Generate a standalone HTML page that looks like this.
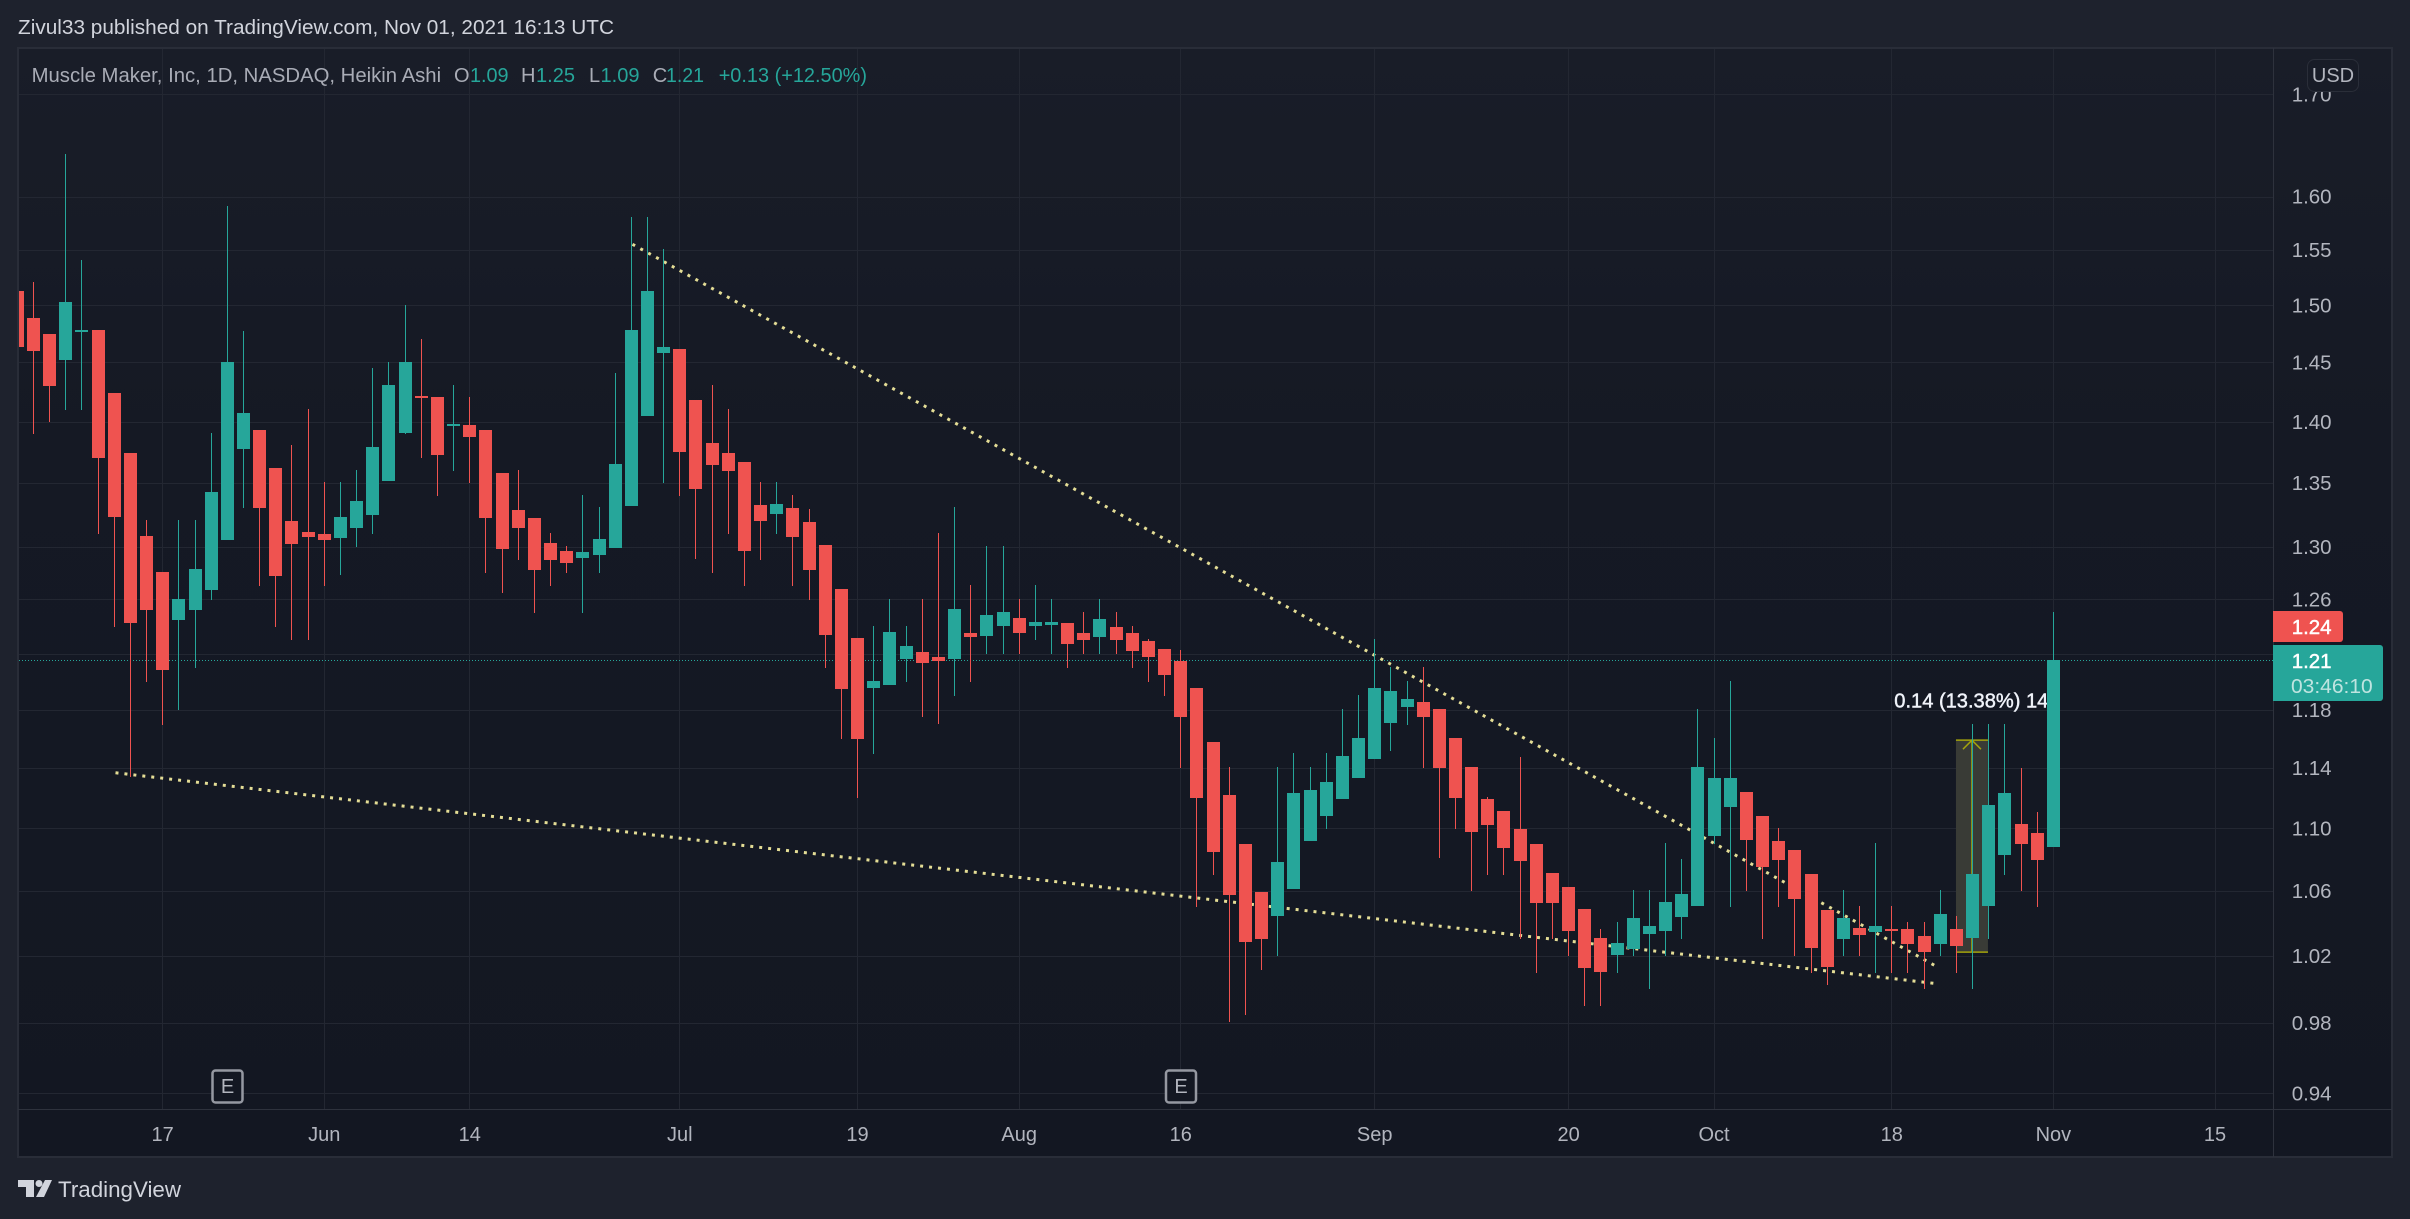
<!DOCTYPE html>
<html lang="en">
<head>
<meta charset="utf-8">
<title>Muscle Maker, Inc Heikin Ashi chart</title>
<style>
html,body{margin:0;padding:0;background:#1e222d;width:2410px;height:1219px;overflow:hidden}
svg{display:block}
text{font-family:"Liberation Sans",sans-serif}
</style>
</head>
<body>
<svg id="chart" xmlns="http://www.w3.org/2000/svg" width="2410" height="1219" viewBox="0 0 2410 1219">
  <defs>
    <linearGradient id="paneBg" x1="0" y1="0" x2="0" y2="1">
      <stop offset="0" stop-color="#191d28"/>
      <stop offset="0.35" stop-color="#151924"/>
      <stop offset="1" stop-color="#131722"/>
    </linearGradient>
    <clipPath id="paneClip"><rect x="19" y="49" width="2254" height="1060"/></clipPath>
  </defs>
  <rect x="0" y="0" width="2410" height="1219" fill="#1e222d"/>
  <text x="18" y="34" font-size="20" fill="#d1d4dc" textLength="596" lengthAdjust="spacingAndGlyphs">Zivul33 published on TradingView.com, Nov 01, 2021 16:13 UTC</text>
  <rect x="18" y="48" width="2374" height="1109" fill="url(#paneBg)" stroke="#292d38" stroke-width="2"/>
  <g id="grid" shape-rendering="crispEdges"></g>
  <g id="overlays" clip-path="url(#paneClip)"></g>
  <g id="candles" clip-path="url(#paneClip)" shape-rendering="crispEdges"></g>
  <line x1="2273.5" y1="48" x2="2273.5" y2="1157" stroke="#2e323d" stroke-width="1"/>
  <line x1="18" y1="1109.5" x2="2392" y2="1109.5" stroke="#2e323d" stroke-width="1"/>
  <g id="yticks"></g>
  <g id="xticks"></g>

  <g font-size="20">
    <text x="31.6" y="82" fill="#a9acb6" textLength="409.5" lengthAdjust="spacingAndGlyphs">Muscle Maker, Inc, 1D, NASDAQ, Heikin Ashi</text>
    <text x="454" y="82" fill="#a9acb6">O</text>
    <text x="470" y="82" fill="#26a69a" textLength="38.6" lengthAdjust="spacingAndGlyphs">1.09</text>
    <text x="521" y="82" fill="#a9acb6">H</text>
    <text x="536" y="82" fill="#26a69a" textLength="39" lengthAdjust="spacingAndGlyphs">1.25</text>
    <text x="589" y="82" fill="#a9acb6">L</text>
    <text x="600.5" y="82" fill="#26a69a" textLength="39" lengthAdjust="spacingAndGlyphs">1.09</text>
    <text x="652.7" y="82" fill="#a9acb6">C</text>
    <text x="666" y="82" fill="#26a69a" textLength="38" lengthAdjust="spacingAndGlyphs">1.21</text>
    <text x="718.7" y="82" fill="#26a69a" textLength="148.3" lengthAdjust="spacingAndGlyphs">+0.13 (+12.50%)</text>
  </g>

  <g>
    <rect x="2307.5" y="59.5" width="51" height="32" rx="7" fill="#181c27" stroke="#2a2e39" stroke-width="1"/>
    <text x="2333" y="82" font-size="20" fill="#b2b5be" text-anchor="middle">USD</text>
  </g>

  <g>
    <rect x="212.5" y="1070.5" width="30" height="32" rx="3" fill="#131722" stroke="#9598a1" stroke-width="2.5"/>
    <text x="227.5" y="1093" font-size="20" fill="#b2b5be" text-anchor="middle">E</text>
  </g>
  <g>
    <rect x="1166" y="1070.5" width="30" height="32" rx="3" fill="#131722" stroke="#9598a1" stroke-width="2.5"/>
    <text x="1181" y="1093" font-size="20" fill="#b2b5be" text-anchor="middle">E</text>
  </g>

  <g>
    <path d="M2273 611H2340a3 3 0 0 1 3 3V639a3 3 0 0 1 -3 3H2273Z" fill="#ef5350"/>
    <text x="2291.7" y="634" font-size="20.5" stroke="#ffffff" stroke-width="0.45" fill="#ffffff">1.24</text>
  </g>
  <g>
    <path d="M2273 645H2380a3 3 0 0 1 3 3V698a3 3 0 0 1 -3 3H2273Z" fill="#26a69a"/>
    <text x="2291.7" y="668" font-size="20.5" stroke="#ffffff" stroke-width="0.45" fill="#ffffff">1.21</text>
    <text x="2291" y="693" font-size="20" fill="#bfe4e0" textLength="81.7" lengthAdjust="spacingAndGlyphs">03:46:10</text>
  </g>

  <g>
    <path d="M18 1180H34V1197H26V1187H18Z" fill="#d1d4dc"/>
    <circle cx="39" cy="1183.5" r="3.5" fill="#d1d4dc"/>
    <path d="M45 1180H52L44 1197H36Z" fill="#d1d4dc"/>
    <text x="58" y="1197" font-size="22" fill="#d1d4dc" textLength="123" lengthAdjust="spacingAndGlyphs">TradingView</text>
  </g>
</svg>

<script>
// ---- Chart data (Heikin Ashi daily bars, USD) ----
const opens = [
1.5129,1.4890,1.4749,1.4523,1.4775,1.4784,1.4241,1.3743,1.3084,1.2808,
1.2448,1.2521,1.2671,1.3053,1.3775,1.3933,1.3622,1.3201,1.3116,1.3100,
1.3069,1.3147,1.3248,1.3518,1.3908,1.4215,1.4207,1.3966,1.3974,1.3933,
1.3582,1.3287,1.3225,1.3030,1.2967,1.2914,1.2937,1.2991,1.3318,1.4048,
1.4582,1.4617,1.4181,1.3825,1.3743,1.3670,1.3326,1.3256,1.3303,1.3193,
1.3014,1.2679,1.2315,1.1956,1.1977,1.2163,1.2213,1.2177,1.2163,1.2352,
1.2330,1.2404,1.2463,1.2404,1.2411,1.2426,1.2352,1.2322,1.2396,1.2352,
1.2293,1.2234,1.2148,1.1956,1.1578,1.1221,1.0899,1.0593,1.0444,1.0612,
1.0919,1.1082,1.1194,1.1335,1.1463,1.1710,1.1821,1.1856,1.1808,1.1606,
1.1409,1.1194,1.1115,1.0997,1.0899,1.0714,1.0625,1.0488,1.0309,1.0205,
1.0241,1.0334,1.0352,1.0438,1.0506,1.0952,1.1141,1.1241,1.1082,1.0919,
1.0860,1.0708,1.0481,1.0303,1.0370,1.0346,1.0364,1.0364,1.0321,1.0272,
1.0364,1.0309,1.0506,1.0828,1.1030,1.0971,1.0880];
const highs = [
1.5129,1.5211,1.4749,1.6410,1.5410,1.4784,1.4241,1.3743,1.3209,1.2808,
1.3209,1.3209,1.3908,1.5911,1.4775,1.3933,1.3622,1.3808,1.4106,1.3510,
1.3510,1.3606,1.4454,1.4506,1.5004,1.4705,1.4207,1.4309,1.4207,1.3933,
1.3582,1.3606,1.3225,1.3108,1.3006,1.3405,1.3310,1.4412,1.5808,1.5808,
1.5509,1.4617,1.4181,1.4309,1.4106,1.3670,1.3510,1.3510,1.3405,1.3295,
1.3014,1.2679,1.2315,1.2404,1.2603,1.2404,1.2603,1.3108,1.3310,1.2709,
1.3006,1.3006,1.2603,1.2709,1.2603,1.2426,1.2507,1.2603,1.2507,1.2404,
1.2308,1.2234,1.2227,1.1956,1.1578,1.1409,1.0899,1.0593,1.1409,1.1503,
1.1409,1.1503,1.1808,1.1906,1.2308,1.2106,1.2006,1.2106,1.1808,1.1606,
1.1409,1.1207,1.1115,1.1476,1.0899,1.0714,1.0625,1.0488,1.0364,1.0407,
1.0606,1.0606,1.0906,1.0803,1.1808,1.1606,1.2006,1.1241,1.1082,1.1004,
1.0860,1.0708,1.0481,1.0606,1.0506,1.0906,1.0506,1.0407,1.0407,1.0606,
1.0444,1.1703,1.1703,1.1703,1.1402,1.1109,1.2507];
const lows = [
1.4634,1.3900,1.3999,1.4098,1.4098,1.3100,1.2396,1.1342,1.1999,1.1696,
1.1801,1.2098,1.2595,1.3053,1.3303,1.2701,1.2396,1.2300,1.2300,1.2701,
1.2785,1.2998,1.3100,1.3518,1.3900,1.3703,1.3397,1.3598,1.3502,1.2800,
1.2648,1.2899,1.2499,1.2701,1.2800,1.2499,1.2800,1.2991,1.3318,1.4048,
1.3502,1.3397,1.2907,1.2800,1.3100,1.2701,1.2899,1.3100,1.2701,1.2595,
1.2098,1.1599,1.1201,1.1496,1.1977,1.1999,1.1752,1.1703,1.1899,1.1999,
1.2198,1.2198,1.2198,1.2300,1.2198,1.2098,1.2198,1.2198,1.2198,1.2098,
1.1999,1.1899,1.1402,1.0500,1.0701,0.9804,0.9849,1.0115,1.0199,1.0612,
1.0919,1.0997,1.1194,1.1335,1.1463,1.1516,1.1696,1.1402,1.0809,1.0997,
1.0600,1.0701,1.0701,1.0303,1.0097,1.0303,1.0199,0.9901,0.9901,1.0097,
1.0199,1.0002,1.0199,1.0303,1.0506,1.0899,1.0500,1.0600,1.0303,1.0500,
1.0199,1.0097,1.0026,1.0199,1.0199,1.0097,1.0097,1.0097,1.0002,1.0199,
1.0097,1.0002,1.0303,1.0701,1.0600,1.0500,1.0880];
const closes = [
1.4634,1.4599,1.4300,1.5030,1.4784,1.3703,1.3232,1.2426,1.2521,1.2084,
1.2603,1.2831,1.3429,1.4506,1.4073,1.3303,1.2778,1.3022,1.3076,1.3053,
1.3232,1.3357,1.3792,1.4309,1.4506,1.4198,1.3727,1.3982,1.3875,1.3225,
1.2983,1.3147,1.2823,1.2899,1.2876,1.2960,1.3061,1.3654,1.4784,1.5129,
1.4634,1.3751,1.3453,1.3646,1.3598,1.2967,1.3201,1.3334,1.3076,1.2823,
1.2337,1.1949,1.1599,1.2006,1.2359,1.2256,1.2134,1.2148,1.2529,1.2322,
1.2485,1.2507,1.2352,1.2433,1.2433,1.2271,1.2300,1.2455,1.2300,1.2220,
1.2177,1.2049,1.1752,1.1201,1.0847,1.0575,1.0284,1.0303,1.0784,1.1234,
1.1254,1.1308,1.1483,1.1606,1.1956,1.1934,1.1877,1.1752,1.1402,1.1201,
1.0978,1.1023,1.0873,1.0790,1.0525,1.0525,1.0352,1.0127,1.0103,1.0278,
1.0432,1.0383,1.0531,1.0581,1.1409,1.1335,1.1335,1.0925,1.0752,1.0796,
1.0549,1.0247,1.0133,1.0432,1.0327,1.0383,1.0352,1.0272,1.0223,1.0457,
1.0259,1.0708,1.1154,1.1234,1.0899,1.0796,1.2156];

const priceTickValues = [1.70,1.60,1.55,1.50,1.45,1.40,1.35,1.30,1.26,1.22,1.18,1.14,1.10,1.06,1.02,0.98,0.94];
const priceTickLabels = ["1.70","1.60","1.55","1.50","1.45","1.40","1.35","1.30","1.26","","1.18","1.14","1.10","1.06","1.02","0.98","0.94"];
const timeTickBars = [9,19,28,41,52,62,72,84,96,105,116,126,136];
const timeTickLabels = ["17","Jun","14","Jul","19","Aug","16","Sep","20","Oct","18","Nov","15"];

const lastPrice = 1.2156;
const upperTrendBars = [38.07,118.9];
const upperTrendPrices = [1.5553,1.0127];
const lowerTrendBars = [6.08,118.9];
const lowerTrendPrices = [1.1368,1.0030];
const measureBars = [119.97,121.95];
const measurePrices = [1.0221,1.1590];
const measureLabel = "0.14 (13.38%) 14";

// ---- Axis functions ----
const NS = 'http://www.w3.org/2000/svg';
function xAt(bar){ return 17.24 + 16.16 * bar; }
function yAt(price){ return 94.3 + (Math.log(1.7) - Math.log(price)) * 1686; }
function make(tag, attrs, parent){
  const el = document.createElementNS(NS, tag);
  for (const k in attrs) el.setAttribute(k, attrs[k]);
  parent.appendChild(el);
  return el;
}

const grid = document.getElementById('grid');
const yticks = document.getElementById('yticks');
const xticks = document.getElementById('xticks');
const overlays = document.getElementById('overlays');
const candles = document.getElementById('candles');

// ---- Grid and ticks ----
priceTickValues.forEach(function(v, i){
  const y = Math.round(yAt(v)) + 0.5;
  const gl = make('line', {x1:19, x2:2273, y1:y, y2:y, stroke:'#232732', 'stroke-width':1}, grid);
  
  
  if (priceTickLabels[i]) {
    const t = make('text', {x:2291.7, y:yAt(v) + 7.2, 'font-size':20.5, fill:'#b2b5be'}, yticks);
    t.textContent = priceTickLabels[i];
    
    
  }
});
timeTickBars.forEach(function(b, i){
  const x = Math.floor(xAt(b)) + 0.5;
  const gl = make('line', {x1:x, x2:x, y1:49, y2:1109, stroke:'#232732', 'stroke-width':1}, grid);
  
  
  const t = make('text', {x:xAt(b), y:1141, 'font-size':20, fill:'#b2b5be', 'text-anchor':'middle'}, xticks);
  t.textContent = timeTickLabels[i];
  
  
});

// ---- Last price line ----
const lastLine = make('line', {x1:19, x2:2273, y1:Math.round(yAt(lastPrice)) + 0.5, y2:Math.round(yAt(lastPrice)) + 0.5, stroke:'#26a69a', 'stroke-width':1, 'stroke-dasharray':'1 2'}, overlays);



// ---- Trend lines ----
const upperTrend = make('line', {x1:xAt(upperTrendBars[0]), y1:yAt(upperTrendPrices[0]), x2:xAt(upperTrendBars[1]), y2:yAt(upperTrendPrices[1]), stroke:'#e4dd96', 'stroke-width':3, 'stroke-dasharray':'3 6'}, overlays);


const lowerTrend = make('line', {x1:xAt(lowerTrendBars[0]), y1:yAt(lowerTrendPrices[0]), x2:xAt(lowerTrendBars[1]), y2:yAt(lowerTrendPrices[1]), stroke:'#e4dd96', 'stroke-width':3, 'stroke-dasharray':'3 6'}, overlays);



// ---- Price range measure ----
const mx0 = xAt(measureBars[0]), mx1 = xAt(measureBars[1]);
const my0 = yAt(measurePrices[0]), my1 = yAt(measurePrices[1]);
const mmid = (mx0 + mx1) / 2;
const mBox = make('rect', {x:mx0, y:my1, width:mx1 - mx0, height:my0 - my1, fill:'#393b36'}, overlays);


const mTop = make('line', {x1:mx0, x2:mx1, y1:my1, y2:my1, stroke:'#a3a30c', 'stroke-width':1.5}, overlays);


const mBot = make('line', {x1:mx0, x2:mx1, y1:my0, y2:my0, stroke:'#a3a30c', 'stroke-width':1.5}, overlays);


const mStem = make('line', {x1:mmid, x2:mmid, y1:my0, y2:my1, stroke:'#a3a30c', 'stroke-width':1.5}, overlays);


const mHead = make('path', {d:'M' + (mmid - 9) + ' ' + (my1 + 9) + 'L' + mmid + ' ' + my1 + 'L' + (mmid + 9) + ' ' + (my1 + 9), fill:'none', stroke:'#a3a30c', 'stroke-width':1.5}, overlays);


const mText = make('text', {x:1894.3, y:707.5, 'font-size':20, stroke:'#f0f3fa', 'stroke-width':0.45, fill:'#f0f3fa', textLength:154, lengthAdjust:'spacingAndGlyphs'}, overlays);
mText.textContent = measureLabel;



// ---- Candles ----
opens.forEach(function(o, i){
  const c = closes[i];
  const up = c >= o;
  const color = up ? '#26a69a' : '#ef5350';
  const cx = Math.floor(xAt(i));
  const top = Math.round(yAt(Math.max(o, c)));
  const bot = Math.round(yAt(Math.min(o, c)));
  const wy0 = Math.round(yAt(highs[i]));
  const wy1 = Math.round(yAt(lows[i]));
  const wick = make('rect', {x:cx, y:wy0, width:1, height:Math.max(1, wy1 - wy0), fill:color}, candles);
  
  
  const body = make('rect', {x:cx - 6, y:top, width:13, height:Math.max(2, bot - top), fill:color}, candles);
  
  
});
</script>
</body>
</html>
